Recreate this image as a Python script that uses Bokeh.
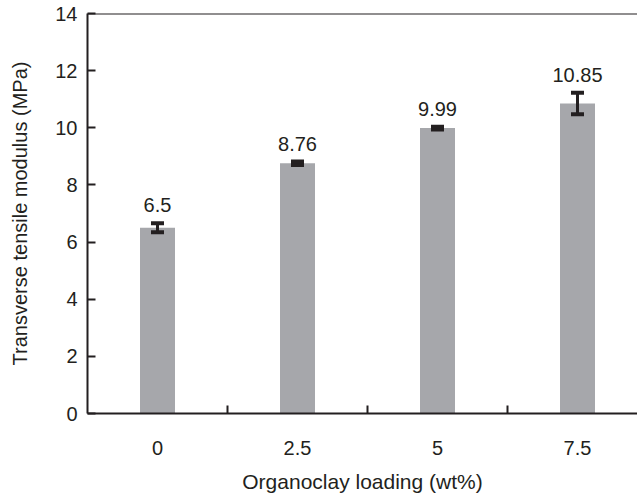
from bokeh.plotting import figure
from bokeh.models import ColumnDataSource, Range1d, FixedTicker, Whisker, TeeHead, Span
from bokeh.core.properties import value
from bokeh.embed import file_html
from bokeh.resources import INLINE

categories = ["0", "2.5", "5", "7.5"]
modulus = [6.5, 8.76, 9.99, 10.85]
errors = [0.16, 0.06, 0.05, 0.38]
value_labels = ["6.5", "8.76", "9.99", "10.85"]
y_ticks = [0, 2, 4, 6, 8, 10, 12, 14]

xs = list(range(len(categories)))
src = ColumnDataSource(dict(
    x=xs, top=modulus,
    upper=[m + e for m, e in zip(modulus, errors)],
    lower=[m - e for m, e in zip(modulus, errors)],
    label=value_labels,
))

INK = "#231f20"
FONT = "Liberation Sans"
FS = "20px"

p = figure(frame_width=550, frame_height=400, output_backend="svg", toolbar_location=None,
           x_range=Range1d(-0.5, 3.4286), y_range=Range1d(0, 14),
           min_border_left=87, min_border_right=0, min_border_top=13, min_border_bottom=85)
p.outline_line_color = None
p.grid.grid_line_color = None
p.background_fill_color = "white"

p.vbar(x="x", top="top", width=0.25, source=src, fill_color="#a6a7ab", line_color=None)

w = Whisker(base="x", upper="upper", lower="lower", source=src,
            line_color=INK, line_width=3, level="overlay",
            upper_head=TeeHead(size=13, line_width=4, line_color=INK),
            lower_head=TeeHead(size=13, line_width=4, line_color=INK))
p.add_layout(w)

p.text(x="x", y="upper", text="label", source=src, y_offset=-18,
       text_align="center", text_baseline="alphabetic",
       text_font=value(FONT), text_font_size=FS, text_color=INK)

p.add_layout(Span(location=14, dimension="width", line_color=INK, line_width=2))

xa = p.xaxis[0]
xa.ticker = FixedTicker(ticks=xs, minor_ticks=[0.5, 1.5, 2.5])
xa.major_label_overrides = {i: c for i, c in enumerate(categories)}
xa.major_tick_in = 0
xa.major_tick_out = 0
xa.minor_tick_in = 8
xa.minor_tick_out = 0
xa.minor_tick_line_width = 2
xa.minor_tick_line_color = INK
xa.major_label_standoff = 27
xa.axis_label = "Organoclay loading (wt%)"
xa.axis_label_standoff = 12

ya = p.yaxis[0]
ya.ticker = FixedTicker(ticks=y_ticks)
ya.major_tick_in = 8
ya.major_tick_out = 0
ya.major_tick_line_width = 2
ya.major_tick_line_color = INK
ya.minor_tick_line_color = None
ya.major_label_standoff = 10
ya.axis_label = "Transverse tensile modulus (MPa)"
ya.axis_label_standoff = 21

for ax in (xa, ya):
    ax.axis_line_width = 2
    ax.axis_line_color = INK
    ax.major_label_text_font = FONT
    ax.major_label_text_font_size = FS
    ax.major_label_text_color = INK
    ax.axis_label_text_font = FONT
    ax.axis_label_text_font_style = "normal"
    ax.axis_label_text_color = INK
xa.axis_label_text_font_size = "21px"
ya.axis_label_text_font_size = "20px"

open("out.html", "w").write(file_html(p, INLINE))
